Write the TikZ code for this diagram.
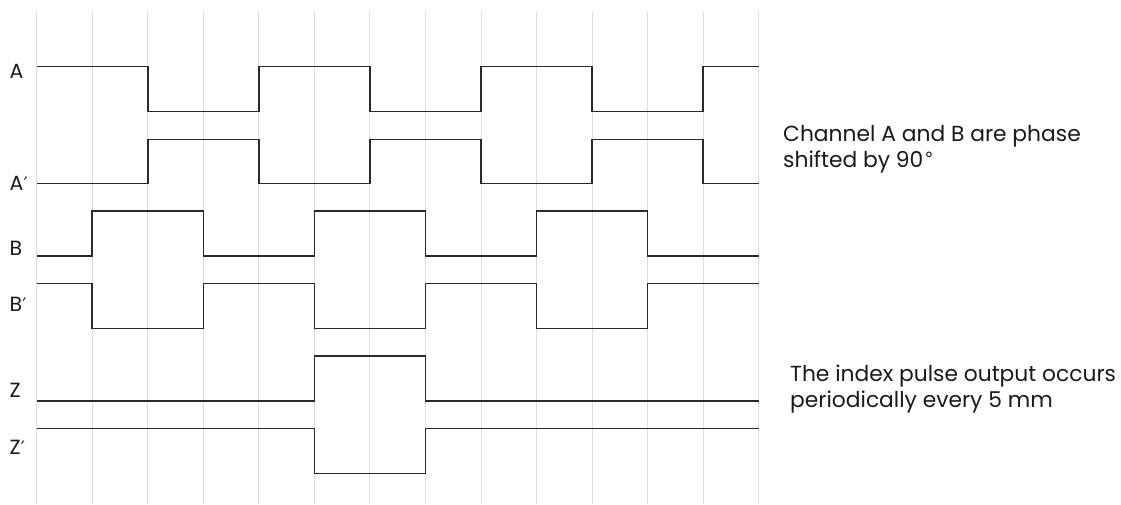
\documentclass[tikz,border=0pt]{standalone}
\usepackage{fontspec}
\setmainfont{Poppins}
\newfontfamily\primefont{DejaVu Sans}[Scale=0.9]
\newcommand{\prm}{{\primefont ′}}
\newcommand{\dgr}{{\primefont\fontsize{20}{20}\selectfont\raisebox{6.5pt}{∘}}}
\definecolor{gridc}{HTML}{DDDDDD}
\definecolor{sigc}{HTML}{2A2A2A}
\definecolor{txtc}{HTML}{1A1A1A}
\begin{document}
\begin{tikzpicture}[x=1pt,y=-1pt,
  gridline/.style={draw=gridc,line width=0.9pt},
  signal/.style={draw=sigc,line width=1.5pt,line join=miter},
  siglabel/.style={anchor=base west,inner sep=0pt,text=txtc,font=\fontsize{20.5}{20.5}\selectfont},
  note/.style={anchor=base west,inner sep=0pt,text=txtc,align=left,font=\fontsize{21.8}{26}\selectfont}]
\useasboundingbox (0,0) rectangle (1121,504);
\begin{scope}[xshift=36.7pt,x=55.54pt]
  \foreach \i in {0,...,13} \draw[gridline] (\i,12) -- (\i,504);
  % A
  \draw[signal] (0,66.7) -| (2,111.7) -| (4,66.7) -| (6,111.7) -| (8,66.7) -| (10,111.7) -| (12,66.7) -- (13,66.7);
  % A'
  \draw[signal] (0,183.7) -| (2,139.3) -| (4,183.7) -| (6,139.3) -| (8,183.7) -| (10,139.3) -| (12,183.7) -- (13,183.7);
  % B
  \draw[signal] (0,256) -| (1,211) -| (3,256) -| (5,211) -| (7,256) -| (9,211) -| (11,256) -- (13,256);
  % B'
  \draw[signal] (0,283.7) -| (1,328.7) -| (3,283.7) -| (5,328.7) -| (7,283.7) -| (9,328.7) -| (11,283.7) -- (13,283.7);
  % Z
  \draw[signal] (0,401) -| (5,356) -| (7,401) -- (13,401);
  % Z'
  \draw[signal] (0,428.3) -| (5,473.3) -| (7,428.3) -- (13,428.3);
\end{scope}
\node[siglabel] (lA) at (9.5,78.3) {A};
\node[siglabel] (lAp) at (9.5,190.5) {A\prm};
\node[siglabel] (lB) at (9.5,255.5) {B};
\node[siglabel] (lBp) at (9.5,311.5) {B\prm};
\node[siglabel] (lZ) at (9.5,397) {Z};
\node[siglabel] (lZp) at (9.5,454) {Z\prm};
\node[note] (n1) at (783,167) {Channel A and B are phase\\shifted by 90\dgr};
\node[note] (n2) at (790,407) {The index pulse output occurs\\periodically every 5 mm};
\end{tikzpicture}
\end{document}
